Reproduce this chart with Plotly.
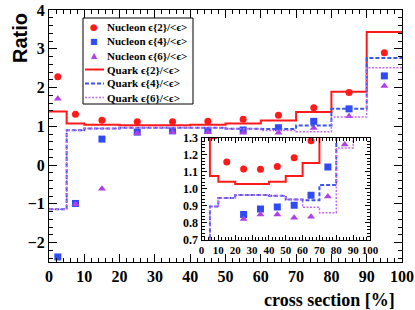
import plotly.graph_objects as go

# ---- data ----
centers = [2.5, 7.5, 15, 25, 35, 45, 55, 65, 75, 85, 95]
bin_edges = [0, 5, 10, 20, 30, 40, 50, 60, 70, 80, 90, 100]

nucleon_e2 = [2.28, 1.31, 1.158, 1.117, 1.115, 1.131, 1.182, 1.282, 1.48, 1.87, 2.90]
nucleon_e4 = [-2.37, -0.99, 0.67, 0.850, 0.882, 0.894, 0.904, 0.963, 1.128, 1.45, 2.30]
nucleon_e6 = [1.71, -1.01, -0.61, 0.823, 0.849, 0.849, 0.831, 0.837, 0.955, 1.26, 2.04]

quark_e2 = [1.38, 1.075, 1.042, 1.028, 1.028, 1.042, 1.075, 1.152, 1.37, 1.89, 3.43]
quark_e4 = [-1.14, 0.897, 0.946, 0.964, 0.964, 0.960, 0.937, 0.933, 1.023, 1.45, 2.76]
quark_e6 = [-1.14, 0.897, 0.946, 0.964, 0.964, 0.960, 0.937, 0.892, 0.860, 1.24, 2.51]

legend_labels = ["Nucleon ϵ{2}/<ϵ>", "Nucleon ϵ{4}/<ϵ>", "Nucleon ϵ{6}/<ϵ>",
                 "Quark ϵ{2}/<ϵ>", "Quark ϵ{4}/<ϵ>", "Quark ϵ{6}/<ϵ>"]

RED = "#FF1A1A"
BLUE = "#2F4BF5"
BLUE_L = "#3A55F0"
PURP = "#B040E6"
PURP_L = "#C46CF0"

SERIF = "Liberation Serif"

# plot area on screen: x 49..402, y 10..262 (body margin is removed below)
W, H = 415, 310
SX0, SX1, SY0, SY1 = 49, 402, 10, 262
ML, MT = SX0, SY0
MR, MB = W - SX1, H - SY1
PW, PH = SX1 - SX0, SY1 - SY0


def px(xp):
    return (xp - SX0) / PW


def py(yp):
    return (SY1 - yp) / PH


fig = go.Figure()

marker_specs = [(nucleon_e2, "circle", RED), (nucleon_e4, "square", BLUE),
                (nucleon_e6, "triangle-up", PURP)]
line_specs = [(quark_e2, RED, "solid", 2), (quark_e4, BLUE_L, "4px,2px", 2),
              (quark_e6, PURP_L, "2px,1.5px", 1.5)]


def add_all(xa, ya):
    for i, (vals, sym, col) in enumerate(marker_specs):
        fig.add_trace(go.Scatter(x=centers, y=vals, mode="markers", name=legend_labels[i],
                                 marker=dict(symbol=sym, color=col, size=7),
                                 showlegend=False, xaxis=xa, yaxis=ya))
    for i, (vals, col, dash, w) in enumerate(line_specs):
        fig.add_trace(go.Scatter(x=bin_edges, y=vals + [vals[-1]], mode="lines",
                                 name=legend_labels[3 + i],
                                 line=dict(color=col, dash=dash, width=w, shape="hv"),
                                 showlegend=False, xaxis=xa, yaxis=ya))


add_all("x", "y")
add_all("x2", "y2")

axis_common = dict(showline=True, linecolor="black", linewidth=1, mirror="allticks",
                   ticks="inside", tickcolor="black", showgrid=False, zeroline=False,
                   automargin=False)

# ---- compact legend box ----
shapes = [dict(type="rect", xref="paper", yref="paper", x0=px(83), x1=px(193),
               y0=py(104), y1=py(18), line=dict(color="black", width=1),
               fillcolor="white", layer="above")]
annotations = []
row_y = [27.3, 41, 55.5, 69.5, 83.5, 97.5]
glyphs = ["●", "■", "▲"]
gsize = [9, 8, 8]
for i in range(3):
    annotations.append(dict(text=glyphs[i], xref="paper", yref="paper", x=px(94), y=py(row_y[i]),
                            xanchor="center", yanchor="middle", showarrow=False,
                            font=dict(family="DejaVu Sans", size=gsize[i], color=marker_specs[i][2])))
for i in range(3):
    col, dash, w = line_specs[i][1], line_specs[i][2], line_specs[i][3]
    shapes.append(dict(type="line", xref="paper", yref="paper", x0=px(85), x1=px(104),
                       y0=py(row_y[3 + i]), y1=py(row_y[3 + i]),
                       line=dict(color=col, dash=dash, width=w), layer="above"))
for i, lab in enumerate(legend_labels):
    annotations.append(dict(text="<b>" + lab + "</b>", xref="paper", yref="paper",
                            x=px(104.5), y=py(row_y[i]), xanchor="left", yanchor="middle",
                            showarrow=False, font=dict(family=SERIF, size=11, color="black")))

annotations += [
    dict(text="<b>Ratio</b>", textangle=-90, xref="paper", yref="paper",
         x=px(20), y=py(11), xanchor="center", yanchor="top", showarrow=False,
         font=dict(family="Liberation Sans", size=20)),
    dict(text="<b>cross section [%]</b>", xref="paper", yref="paper",
         x=px(397), y=py(288), xanchor="right", yanchor="top", showarrow=False,
         font=dict(family=SERIF, size=18)),
]

fig.update_layout(
    width=W, height=H,
    margin=dict(l=ML, r=MR, t=MT, b=MB, autoexpand=False),
    paper_bgcolor="white", plot_bgcolor="white",
    font=dict(family=SERIF, color="black"),
    showlegend=False,
    xaxis=dict(range=[0, 100], dtick=10, ticklen=8,
               minor=dict(dtick=2, ticks="inside", ticklen=4, tickcolor="black"),
               tickfont=dict(family=SERIF, size=16, weight="bold"), **axis_common),
    yaxis=dict(range=[-2.5, 4], dtick=1, ticklen=8,
               minor=dict(dtick=0.2, ticks="inside", ticklen=4, tickcolor="black"),
               tickfont=dict(family=SERIF, size=16, weight="bold"), **axis_common),
    xaxis2=dict(domain=[px(201.5), px(370)], anchor="y2", range=[0, 100], dtick=10, ticklen=5,
                minor=dict(dtick=2, ticks="inside", ticklen=3, tickcolor="black"),
                tickfont=dict(family=SERIF, size=11, weight="bold"), **axis_common),
    yaxis2=dict(domain=[py(240), py(137.7)], anchor="x2", range=[0.7, 1.3], dtick=0.1, ticklen=5,
                tickformat=".1f",
                minor=dict(dtick=0.02, ticks="inside", ticklen=3, tickcolor="black"),
                tickfont=dict(family=SERIF, size=12, weight="bold"), **axis_common),
    shapes=shapes,
    annotations=annotations,
)

fig.write_html("out.html", config={"displayModeBar": False},
               post_script="document.body.style.margin='0px';document.body.style.padding='0px';")
